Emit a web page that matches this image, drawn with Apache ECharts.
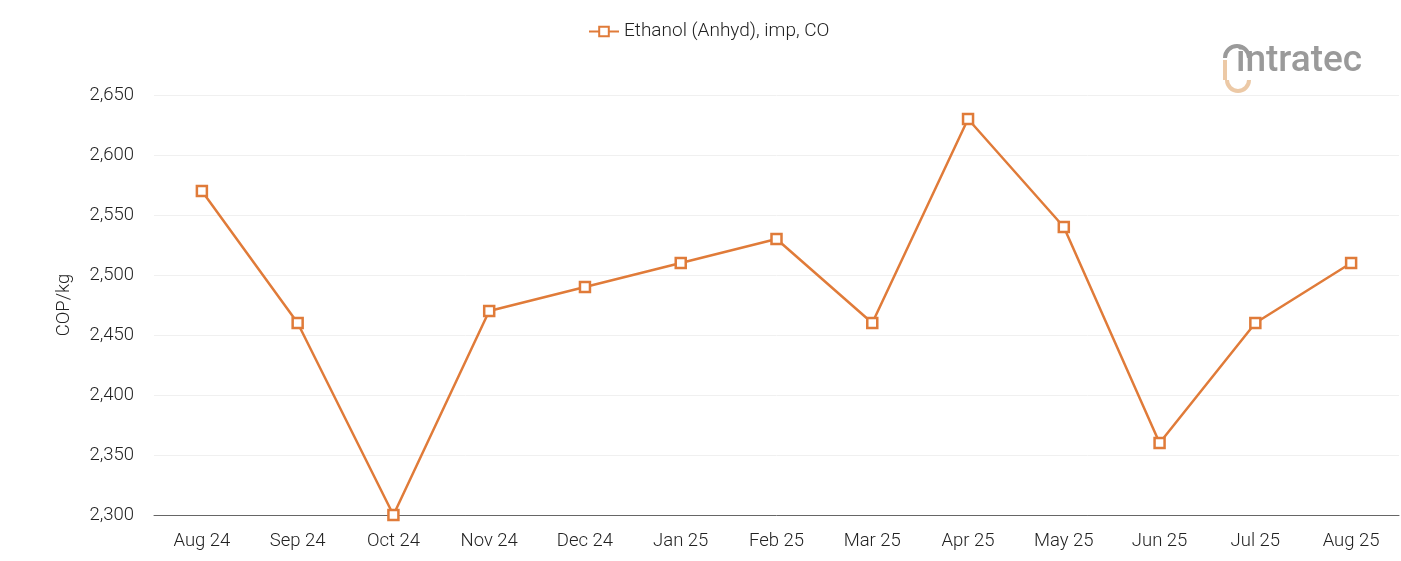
<!DOCTYPE html>
<html><head><meta charset="utf-8">
<script src="https://cdn.jsdelivr.net/npm/echarts@6/dist/echarts.min.js"></script>
<style>html,body{margin:0;padding:0;background:#fff}#c{width:1401px;height:561px}</style>
</head><body><div id="c"></div>
<script>
const categories = ['Aug 24','Sep 24','Oct 24','Nov 24','Dec 24','Jan 25','Feb 25','Mar 25','Apr 25','May 25','Jun 25','Jul 25','Aug 25'];
const values = [2570, 2460, 2300, 2470, 2490, 2510, 2530, 2460, 2630, 2540, 2360, 2460, 2510];
const seriesName = 'Ethanol (Anhyd), imp, CO';
const yName = 'COP/kg';
const color = '#e07b39';
const fw = 300;
const chart = echarts.init(document.getElementById('c'));
chart.setOption({
  animation: false,
  textStyle: {fontFamily: 'Roboto', fontWeight: fw},
  legend: {top: 17, left: 583, itemWidth: 30, itemHeight: 12, itemGap: 8,
    textStyle: {fontSize: 19, color: '#222', fontFamily: 'Roboto', fontWeight: fw},
    data: [seriesName]},
  grid: {left: 154, right: 2, top: 95, bottom: 46},
  xAxis: {type: 'category', data: categories, boundaryGap: true,
    axisLine: {lineStyle: {color: '#666', width: 1}},
    axisTick: {show: false},
    axisLabel: {fontSize: 18.5, color: '#222', margin: 17, fontWeight: fw}},
  yAxis: {type: 'value', min: 2300, max: 2650, interval: 50,
    name: yName, nameLocation: 'middle', nameGap: 80, nameRotate: 90,
    nameTextStyle: {fontSize: 18.5, color: '#222', fontWeight: fw},
    axisLine: {show: false}, axisTick: {show: false},
    axisLabel: {fontSize: 18.5, color: '#222', margin: 20, fontWeight: fw,
      formatter: v => v.toLocaleString('en-US')},
    splitLine: {lineStyle: {color: '#f0f0f0'}}},
  graphic: [
    {type: 'text', left: 1236, top: 43, style: {text: 'intratec', fontSize: 37, fontWeight: 500, fill: '#9a9a9a', fontFamily: 'Roboto'}},
    {type: 'arc', shape: {cx: 1237, cy: 58, r: 12, startAngle: Math.PI, endAngle: 2*Math.PI}, style: {stroke: '#9a9a9a', lineWidth: 4, fill: null}},
    {type: 'arc', shape: {cx: 1238, cy: 80, r: 11, startAngle: 0, endAngle: Math.PI}, style: {stroke: '#ecc9a6', lineWidth: 4, fill: null}},
    {type: 'rect', shape: {x: 1223, y: 60, width: 4, height: 20}, style: {fill: '#ecc9a6'}}
  ],
  series: [{name: seriesName, type: 'line', data: values,
    symbol: 'rect', symbolSize: 10, showAllSymbol: true,
    lineStyle: {color: color, width: 2.5},
    itemStyle: {color: '#fff', borderColor: color, borderWidth: 2.5}}]
});
</script></body></html>
